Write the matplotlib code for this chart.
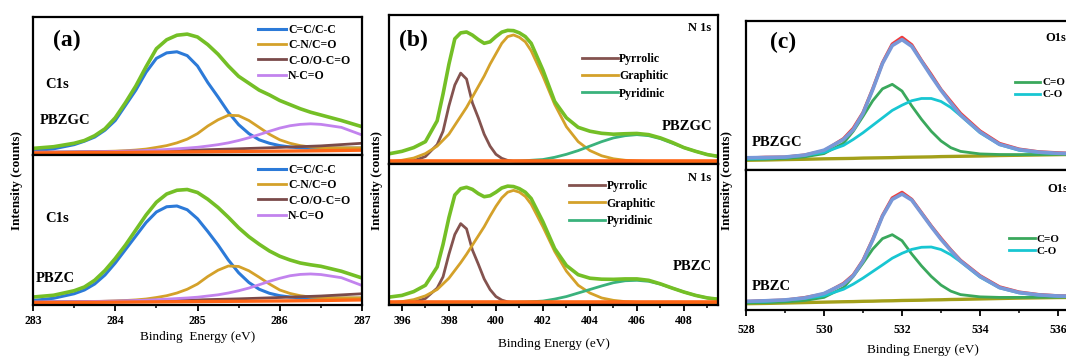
import numpy as np
import matplotlib
matplotlib.use("Agg")
import matplotlib.pyplot as plt
from matplotlib.ticker import MultipleLocator

plt.rcParams['font.family'] = ['Liberation Serif', 'DejaVu Serif']
plt.rcParams['font.weight'] = 'bold'

W, H = 1066, 356

# ---------------- (a) C1s ----------------
xa = [283, 283.25, 283.5, 283.625, 283.75, 283.875, 284, 284.125, 284.25,
      284.375, 284.5, 284.625, 284.75, 284.875, 285, 285.125, 285.25,
      285.375, 285.5, 285.625, 285.75, 285.875, 286, 286.125, 286.25,
      286.375, 286.5, 286.75, 287]
a_top_env = [0.048, 0.06, 0.085, 0.105, 0.14, 0.19, 0.27, 0.38, 0.5, 0.64,
             0.77, 0.835, 0.868, 0.876, 0.855, 0.8, 0.73, 0.645, 0.57, 0.52,
             0.47, 0.435, 0.395, 0.365, 0.335, 0.31, 0.29, 0.25, 0.205]
a_top_cc = [0.03, 0.045, 0.075, 0.1, 0.13, 0.18, 0.25, 0.36, 0.47, 0.6,
            0.7, 0.74, 0.748, 0.72, 0.645, 0.525, 0.42, 0.31, 0.22, 0.155,
            0.11, 0.085, 0.068, 0.058, 0.052, 0.05, 0.05, 0.05, 0.05]
a_top_cn = [0.02, 0.02, 0.022, 0.023, 0.024, 0.026, 0.028, 0.031, 0.036,
            0.043, 0.055, 0.068, 0.088, 0.115, 0.155, 0.21, 0.255, 0.288,
            0.285, 0.25, 0.2, 0.15, 0.11, 0.085, 0.068, 0.058, 0.054, 0.052,
            0.052]
a_top_nco = [0.02, 0.021, 0.022, 0.023, 0.024, 0.025, 0.026, 0.028, 0.03,
             0.033, 0.036, 0.04, 0.045, 0.05, 0.056, 0.065, 0.075, 0.088,
             0.105, 0.125, 0.148, 0.172, 0.195, 0.212, 0.222, 0.226, 0.222,
             0.2, 0.145]

a_bot_env = [0.053, 0.065, 0.095, 0.12, 0.165, 0.23, 0.31, 0.4, 0.5, 0.6,
             0.685, 0.74, 0.765, 0.77, 0.75, 0.705, 0.65, 0.585, 0.515, 0.455,
             0.405, 0.36, 0.325, 0.3, 0.28, 0.268, 0.258, 0.225, 0.18]
a_bot_cc = [0.03, 0.045, 0.075, 0.1, 0.14, 0.2, 0.28, 0.37, 0.46, 0.55,
            0.62, 0.655, 0.66, 0.635, 0.575, 0.49, 0.4, 0.3, 0.215, 0.15,
            0.105, 0.078, 0.062, 0.053, 0.048, 0.046, 0.045, 0.045, 0.045]
a_bot_cn = [0.02, 0.02, 0.021, 0.022, 0.023, 0.025, 0.027, 0.03, 0.034,
            0.04, 0.05, 0.062, 0.08, 0.105, 0.14, 0.19, 0.232, 0.26, 0.257,
            0.228, 0.185, 0.14, 0.1, 0.077, 0.062, 0.053, 0.05, 0.048, 0.048]
a_bot_nco = [0.02, 0.021, 0.022, 0.023, 0.024, 0.025, 0.026, 0.028, 0.03,
             0.032, 0.035, 0.039, 0.043, 0.047, 0.052, 0.06, 0.068, 0.08,
             0.095, 0.113, 0.135, 0.158, 0.178, 0.195, 0.204, 0.207, 0.203,
             0.182, 0.13]

xa_bg = [283, 283.5, 284, 284.5, 285, 285.5, 286, 286.5, 287]
a_top_co = [0.02, 0.022, 0.026, 0.03, 0.036, 0.045, 0.055, 0.066, 0.085]
a_top_bg = [0.015, 0.017, 0.019, 0.021, 0.023, 0.026, 0.028, 0.031, 0.035]
a_bot_co = [0.02, 0.022, 0.025, 0.029, 0.034, 0.041, 0.05, 0.06, 0.075]
a_bot_bg = [0.015, 0.017, 0.019, 0.021, 0.023, 0.025, 0.027, 0.03, 0.034]
a_labels = ['C=C/C-C', 'C-N/C=O', 'C-O/O-C=O', 'N-C=O']

# ---------------- (b) N 1s ----------------
xb = [395.5, 396, 396.5, 397, 397.5, 397.75, 398, 398.25, 398.5, 398.75,
      399, 399.25, 399.5, 399.75, 400, 400.25, 400.5, 400.75, 401, 401.25,
      401.5, 402, 402.5, 403, 403.5, 404, 404.5, 405, 405.5, 406, 406.5,
      407, 407.5, 408, 408.5, 409, 409.5]
b_top_env = [0.07, 0.085, 0.11, 0.15, 0.29, 0.47, 0.67, 0.84, 0.88, 0.886,
             0.865, 0.835, 0.81, 0.82, 0.855, 0.885, 0.897, 0.895, 0.88,
             0.855, 0.81, 0.63, 0.42, 0.31, 0.246, 0.22, 0.206, 0.2, 0.203,
             0.205, 0.197, 0.175, 0.145, 0.11, 0.085, 0.063, 0.05]
b_top_pyrrolic = [0.012, 0.015, 0.022, 0.05, 0.13, 0.22, 0.39, 0.53, 0.61,
                  0.57, 0.41, 0.31, 0.2, 0.12, 0.065, 0.038, 0.024, 0.017,
                  0.014, 0.013, 0.012, 0.012, 0.012, 0.012, 0.012, 0.012,
                  0.012, 0.012, 0.012, 0.012, 0.012, 0.012, 0.012, 0.012,
                  0.012, 0.012, 0.012]
b_top_graphitic = [0.015, 0.025, 0.04, 0.07, 0.12, 0.16, 0.2, 0.26, 0.32,
                   0.38, 0.45, 0.52, 0.59, 0.67, 0.74, 0.81, 0.855, 0.866,
                   0.85, 0.82, 0.76, 0.59, 0.4, 0.25, 0.15, 0.09, 0.055,
                   0.035, 0.025, 0.02, 0.017, 0.015, 0.015, 0.015, 0.015,
                   0.015, 0.015]
b_top_pyridinic = [0.012, 0.012, 0.012, 0.012, 0.012, 0.012, 0.013, 0.013,
                   0.013, 0.013, 0.014, 0.014, 0.015, 0.015, 0.016, 0.017,
                   0.018, 0.019, 0.02, 0.022, 0.025, 0.03, 0.045, 0.065,
                   0.09, 0.12, 0.15, 0.175, 0.19, 0.197, 0.19, 0.17, 0.14,
                   0.11, 0.085, 0.063, 0.05]

b_bot_env = [0.057, 0.068, 0.095, 0.14, 0.27, 0.43, 0.62, 0.78, 0.825,
             0.835, 0.82, 0.79, 0.768, 0.775, 0.8, 0.83, 0.843, 0.84, 0.825,
             0.8, 0.755, 0.59, 0.4, 0.28, 0.215, 0.19, 0.183, 0.182, 0.185,
             0.185, 0.175, 0.15, 0.12, 0.092, 0.068, 0.05, 0.04]
b_bot_pyrrolic = [0.012, 0.014, 0.02, 0.046, 0.12, 0.2, 0.36, 0.5, 0.577,
                  0.54, 0.39, 0.29, 0.185, 0.11, 0.06, 0.035, 0.022, 0.016,
                  0.013, 0.012, 0.012, 0.012, 0.012, 0.012, 0.012, 0.012,
                  0.012, 0.012, 0.012, 0.012, 0.012, 0.012, 0.012, 0.012,
                  0.012, 0.012, 0.012]
b_bot_graphitic = [0.015, 0.024, 0.038, 0.065, 0.11, 0.15, 0.19, 0.245, 0.3,
                   0.36, 0.425, 0.49, 0.555, 0.63, 0.7, 0.76, 0.8, 0.813,
                   0.8, 0.77, 0.715, 0.555, 0.38, 0.24, 0.14, 0.085, 0.05,
                   0.033, 0.024, 0.019, 0.015, 0.015, 0.015, 0.015, 0.015,
                   0.015, 0.015]
b_bot_pyridinic = [0.012, 0.012, 0.012, 0.012, 0.012, 0.012, 0.013, 0.013,
                   0.013, 0.013, 0.014, 0.014, 0.015, 0.015, 0.016, 0.017,
                   0.018, 0.019, 0.02, 0.021, 0.023, 0.028, 0.042, 0.06,
                   0.085, 0.11, 0.135, 0.158, 0.172, 0.175, 0.168, 0.148,
                   0.12, 0.092, 0.068, 0.05, 0.04]
b_bg_x = [395.5, 409.5]
b_bg_y = [0.02, 0.02]
b_labels = ['Pyrrolic', 'Graphitic', 'Pyridinic']

# ---------------- (c) O1s ----------------
xc = [528, 528.5, 529, 529.5, 530, 530.5, 530.75, 531, 531.25, 531.5,
      531.75, 532, 532.25, 532.5, 532.75, 533, 533.25, 533.5, 534, 534.5,
      535, 535.5, 536, 536.5]
c_top_raw = [0.08, 0.085, 0.086, 0.1, 0.128, 0.21, 0.28, 0.385, 0.545, 0.72,
             0.845, 0.89, 0.84, 0.735, 0.64, 0.54, 0.46, 0.38, 0.262, 0.178,
             0.14, 0.122, 0.115, 0.11]
c_top_fit = [0.082, 0.084, 0.087, 0.1, 0.133, 0.205, 0.27, 0.38, 0.54,
             0.715, 0.835, 0.875, 0.83, 0.73, 0.63, 0.535, 0.45, 0.37,
             0.255, 0.172, 0.137, 0.12, 0.112, 0.11]
c_top_c_o_d = [0.07, 0.073, 0.078, 0.088, 0.11, 0.18, 0.26, 0.36, 0.465,
               0.545, 0.575, 0.53, 0.43, 0.34, 0.26, 0.195, 0.15, 0.125,
               0.108, 0.104, 0.103, 0.104, 0.105, 0.106]
c_top_c_o_s = [0.075, 0.078, 0.085, 0.098, 0.118, 0.165, 0.205, 0.25, 0.3,
               0.35, 0.4, 0.435, 0.465, 0.48, 0.48, 0.46, 0.42, 0.365, 0.25,
               0.17, 0.132, 0.117, 0.11, 0.108]
c_top_bg = [0.065, 0.067, 0.07, 0.072, 0.075, 0.077, 0.078, 0.08, 0.081,
            0.082, 0.083, 0.085, 0.086, 0.087, 0.088, 0.09, 0.091, 0.092,
            0.094, 0.097, 0.099, 0.101, 0.103, 0.105]

c_bot_raw = [0.06, 0.066, 0.07, 0.088, 0.114, 0.19, 0.25, 0.355, 0.505,
             0.675, 0.8, 0.84, 0.79, 0.695, 0.6, 0.512, 0.43, 0.355, 0.245,
             0.165, 0.128, 0.11, 0.101, 0.098]
c_bot_fit = [0.062, 0.066, 0.072, 0.086, 0.118, 0.185, 0.245, 0.35, 0.5,
             0.67, 0.79, 0.828, 0.785, 0.69, 0.595, 0.505, 0.425, 0.35, 0.24,
             0.16, 0.125, 0.108, 0.1, 0.098]
c_bot_c_o_d = [0.05, 0.053, 0.058, 0.068, 0.09, 0.16, 0.24, 0.335, 0.435,
               0.51, 0.538, 0.495, 0.4, 0.315, 0.24, 0.178, 0.135, 0.11,
               0.094, 0.09, 0.09, 0.091, 0.092, 0.094]
c_bot_c_o_s = [0.058, 0.062, 0.07, 0.082, 0.102, 0.148, 0.185, 0.228, 0.275,
               0.322, 0.37, 0.405, 0.433, 0.448, 0.45, 0.432, 0.395, 0.345,
               0.235, 0.158, 0.122, 0.106, 0.098, 0.096]
c_bot_bg = [0.045, 0.047, 0.05, 0.053, 0.056, 0.059, 0.06, 0.062, 0.063,
            0.065, 0.066, 0.068, 0.069, 0.07, 0.072, 0.073, 0.075, 0.076,
            0.079, 0.082, 0.085, 0.087, 0.089, 0.09]
c_labels = ['C=O', 'C-O']

GREEN = '#74bf26'
BLUE = '#2c7ad8'
GOLD = '#d4a12a'
BROWN = '#7a4a4a'
PURPLE = '#c283ee'
ORANGE = '#ff6414'
TEAL = '#3ab27c'
CGREEN = '#3aa85c'
CYAN = '#18c6d2'
FITBLUE = '#7898d8'
RED = '#f03c3c'
OLIVE = '#a3a01a'


def add_ax(fig, left, top, right, bottom):
    return fig.add_axes([left / W, 1 - bottom / H, (right - left) / W, (bottom - top) / H])


def ftext(fig, x, y, s, **kw):
    fig.text(x / W, 1 - y / H, s, **kw)


def style(ax, xlim, major, minor, show_x, pad=3):
    ax.set_xlim(*xlim)
    ax.set_ylim(0, 1)
    ax.set_yticks([])
    for sp in ax.spines.values():
        sp.set_linewidth(1.6)
    ax.xaxis.set_major_locator(MultipleLocator(major))
    ax.xaxis.set_minor_locator(MultipleLocator(minor))
    ax.tick_params(axis='x', which='major', direction='out', length=4, width=1.3,
                   labelsize=8.5, pad=pad)
    ax.tick_params(axis='x', which='minor', direction='out', length=2.5, width=1.1)
    if not show_x:
        ax.tick_params(axis='x', which='both', length=0, labelbottom=False)


def legend(ax, x, y, hl, spacing, size=8.5):
    ax.legend(loc='upper left', bbox_to_anchor=(x, y), frameon=False,
              borderpad=0, borderaxespad=0, handlelength=hl, handletextpad=0.15,
              labelspacing=spacing, prop={'family': 'Liberation Serif',
                                          'weight': 'bold', 'size': size})


fig = plt.figure(figsize=(W / 100, H / 100), dpi=100)

# panel (a)
a1 = add_ax(fig, 33, 17, 362, 155)
a2 = add_ax(fig, 33, 155, 362, 305)
for ax, env, cc, cn, co, nco, bg in [
        (a1, a_top_env, a_top_cc, a_top_cn, a_top_co, a_top_nco, a_top_bg),
        (a2, a_bot_env, a_bot_cc, a_bot_cn, a_bot_co, a_bot_nco, a_bot_bg)]:
    ax.plot(xa, cc, color=BLUE, lw=2.2, label=a_labels[0])
    ax.plot(xa, cn, color=GOLD, lw=2.0, label=a_labels[1])
    ax.plot(xa_bg, co, color=BROWN, lw=2.0, label=a_labels[2])
    ax.plot(xa, nco, color=PURPLE, lw=2.0, label=a_labels[3])
    ax.plot(xa, env, color=GREEN, lw=2.6)
    ax.plot(xa_bg, bg, color=ORANGE, lw=2.4)
style(a1, (283, 287), 1, 0.5, False)
style(a2, (283, 287), 1, 0.5, True)
legend(a1, 0.684, 0.95, 2.4, 0.28)
legend(a2, 0.684, 0.94, 2.4, 0.28)
a2.set_xlabel('Binding  Energy (eV)', fontsize=9.5, labelpad=3)

# panel (b)
b1 = add_ax(fig, 389, 15, 718, 164)
b2 = add_ax(fig, 389, 164, 718, 305)
for ax, env, pyr, gra, pyd in [
        (b1, b_top_env, b_top_pyrrolic, b_top_graphitic, b_top_pyridinic),
        (b2, b_bot_env, b_bot_pyrrolic, b_bot_graphitic, b_bot_pyridinic)]:
    ax.plot(xb, pyr, color='#84534f', lw=2.0, label=b_labels[0])
    ax.plot(xb, gra, color=GOLD, lw=2.0, label=b_labels[1])
    ax.plot(xb, pyd, color=TEAL, lw=2.0, label=b_labels[2])
    ax.plot(xb, env, color=GREEN, lw=2.6)
    ax.plot(b_bg_x, b_bg_y, color=ORANGE, lw=2.6)
style(b1, (395.45, 409.45), 2, 1, False)
style(b2, (395.45, 409.45), 2, 1, True)
legend(b1, 0.587, 0.745, 3.0, 0.45)
legend(b2, 0.548, 0.885, 3.0, 0.45)
b2.set_xlabel('Binding Energy (eV)', fontsize=9.5, labelpad=8)

# panel (c)
c1 = add_ax(fig, 746, 21, 1097, 170)
c2 = add_ax(fig, 746, 170, 1097, 310)
for ax, raw, fit, cod, cos, bg in [
        (c1, c_top_raw, c_top_fit, c_top_c_o_d, c_top_c_o_s, c_top_bg),
        (c2, c_bot_raw, c_bot_fit, c_bot_c_o_d, c_bot_c_o_s, c_bot_bg)]:
    ax.plot(xc, raw, color=RED, lw=2.4)
    ax.plot(xc, bg, color=OLIVE, lw=2.4)
    ax.plot(xc, cod, color=CGREEN, lw=2.0, label=c_labels[0])
    ax.plot(xc, cos, color=CYAN, lw=2.0, label=c_labels[1])
    ax.plot(xc, fit, color=FITBLUE, lw=2.6)
style(c1, (528, 537), 2, 1, False)
style(c2, (528, 537), 2, 1, True, pad=6)
legend(c1, 0.766, 0.62, 2.3, 0.2, size=8)
legend(c2, 0.75, 0.54, 2.3, 0.2, size=8)
c2.set_xlabel('Binding Energy (eV)', fontsize=9.5)
c2.xaxis.set_label_coords((923 - 746) / 351, -0.24)

# panel letters and annotations
ftext(fig, 67, 40, '(a)', fontsize=17, ha='center', va='center')
ftext(fig, 413, 40, '(b)', fontsize=17, ha='center', va='center')
ftext(fig, 783, 42, '(c)', fontsize=17, ha='center', va='center')

ftext(fig, 45, 84, 'C1s', fontsize=10.5, va='center')
ftext(fig, 40, 121, 'PBZGC', fontsize=10.5, va='center')
ftext(fig, 45, 219, 'C1s', fontsize=10.5, va='center')
ftext(fig, 36, 278, 'PBZC', fontsize=10.5, va='center')

ftext(fig, 711, 28, 'N 1s', fontsize=9, ha='right', va='center')
ftext(fig, 711, 178, 'N 1s', fontsize=9, ha='right', va='center')
ftext(fig, 712, 127, 'PBZGC', fontsize=10.5, ha='right', va='center')
ftext(fig, 712, 266, 'PBZC', fontsize=10.5, ha='right', va='center')

ftext(fig, 1045, 38, 'O1s', fontsize=9, va='center')
ftext(fig, 1047, 189, 'O1s', fontsize=9, va='center')
ftext(fig, 752, 142, 'PBZGC', fontsize=10.5, va='center')
ftext(fig, 752, 286, 'PBZC', fontsize=10.5, va='center')

for x in (17, 377, 727):
    ftext(fig, x, 181, 'Intensity (counts)', fontsize=9.5, rotation=90,
          ha='center', va='center')

fig.savefig('out.png', dpi=100)
